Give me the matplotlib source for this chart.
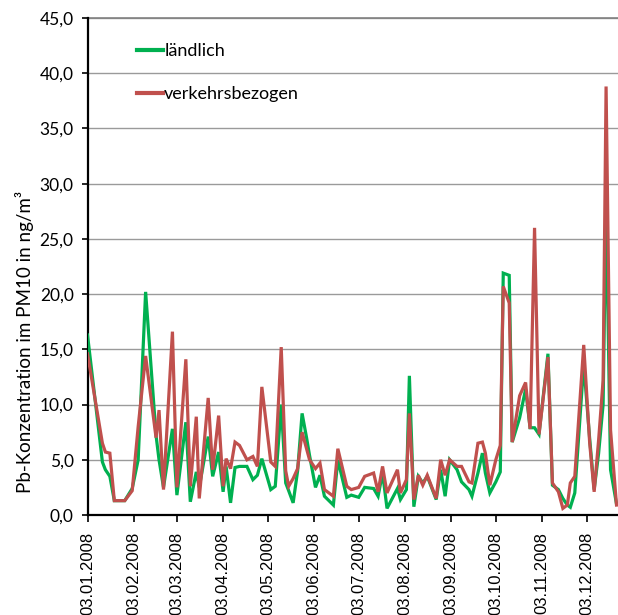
import matplotlib
matplotlib.use("Agg")
import matplotlib.pyplot as plt
import matplotlib.dates as mdates
from matplotlib.ticker import FuncFormatter, MultipleLocator
import pandas as pd

# Sampling dates 2008 and Pb concentrations (ng/m³) in PM10
dates = [
    "2008-01-03", "2008-01-13", "2008-01-15", "2008-01-18", "2008-01-21", "2008-01-24",
    "2008-01-28", "2008-02-02", "2008-02-06", "2008-02-11", "2008-02-18", "2008-02-20",
    "2008-02-23", "2008-02-29", "2008-03-03", "2008-03-09", "2008-03-12", "2008-03-16",
    "2008-03-18", "2008-03-24", "2008-03-27", "2008-03-31", "2008-04-03", "2008-04-05",
    "2008-04-08", "2008-04-11", "2008-04-14", "2008-04-19", "2008-04-23", "2008-04-26",
    "2008-04-29", "2008-05-05", "2008-05-08", "2008-05-12", "2008-05-15", "2008-05-17",
    "2008-05-20", "2008-05-23", "2008-05-26", "2008-05-29", "2008-05-31", "2008-06-04",
    "2008-06-07", "2008-06-10", "2008-06-16", "2008-06-19", "2008-06-25", "2008-06-28",
    "2008-07-03", "2008-07-07", "2008-07-13", "2008-07-16", "2008-07-19", "2008-07-22",
    "2008-07-29", "2008-07-31", "2008-08-04", "2008-08-06", "2008-08-09", "2008-08-12",
    "2008-08-15", "2008-08-18", "2008-08-24", "2008-08-27", "2008-08-30", "2008-09-02",
    "2008-09-07", "2008-09-10", "2008-09-15", "2008-09-17", "2008-09-21", "2008-09-24",
    "2008-09-26", "2008-09-29", "2008-10-03", "2008-10-06", "2008-10-08", "2008-10-12",
    "2008-10-14", "2008-10-19", "2008-10-23", "2008-10-26", "2008-10-29", "2008-11-01",
    "2008-11-07", "2008-11-10", "2008-11-14", "2008-11-17", "2008-11-20", "2008-11-22",
    "2008-11-25", "2008-12-01", "2008-12-05", "2008-12-08", "2008-12-11", "2008-12-14",
    "2008-12-16", "2008-12-19", "2008-12-23",
]

laendlich = [
    16.3, 4.8, 4.1, 3.5, 1.3, 1.3,
    1.3, 2.4, 5.0, 20.2, 7.2, 5.0,
    2.5, 7.8, 1.8, 8.4, 1.2, 3.9,
    2.5, 7.1, 3.5, 5.7, 2.1, 4.4,
    1.1, 4.3, 4.4, 4.4, 3.2, 3.6,
    5.1, 2.3, 2.6, 10.0, 2.9, 2.2,
    1.1, 4.0, 9.2, 7.0, 5.4, 2.5,
    3.6, 1.7, 0.9, 5.0, 1.6, 1.8,
    1.6, 2.5, 2.4, 1.7, 3.8, 0.6,
    2.4, 1.4, 2.3, 12.6, 0.75, 3.5,
    2.9, 3.5, 1.4, 4.1, 1.7, 5.0,
    4.1, 3.0, 2.3, 1.7, 3.8, 5.6,
    3.8, 2.0, 3.0, 3.9, 21.9, 21.7,
    6.6, 8.8, 11.4, 7.9, 7.9, 7.3,
    14.6, 2.7, 2.3, 1.5, 0.9, 0.7,
    2.0, 13.7, 6.9, 2.3, 5.6, 10.0,
    28.5, 4.1, 1.0,
]

verkehrsbezogen = [
    14.6, 6.5, 5.7, 5.6, 1.3, 1.3,
    1.3, 2.2, 8.0, 14.4, 7.0, 9.5,
    2.3, 16.6, 2.5, 14.1, 2.6, 8.9,
    1.5, 10.6, 4.1, 9.0, 2.6, 5.1,
    4.2, 6.6, 6.3, 5.0, 5.3, 4.4,
    11.6, 4.8, 4.4, 15.2, 4.0, 2.6,
    3.3, 4.2, 7.5, 6.0, 5.0, 4.2,
    4.7, 2.3, 1.7, 6.0, 2.6, 2.3,
    2.5, 3.5, 3.8, 2.1, 4.4, 2.0,
    4.1, 2.0, 3.2, 9.2, 1.4, 3.6,
    2.7, 3.6, 1.5, 5.0, 3.6, 5.0,
    4.4, 4.4, 3.0, 2.9, 6.5, 6.6,
    5.6, 2.7, 5.0, 6.3, 20.7, 19.2,
    6.6, 10.8, 12.0, 7.8, 26.0, 7.3,
    14.3, 2.9, 2.1, 0.6, 0.9, 2.9,
    3.5, 15.4, 6.5, 2.1, 6.8, 12.2,
    38.8, 7.7, 0.9,
]

series_names = ["ländlich", "verkehrsbezogen"]
series_colors = ["#00B050", "#C0504D"]
tick_dates = pd.date_range("2008-01-01", periods=12, freq="MS") + pd.Timedelta(days=2)

x = pd.to_datetime(dates)

fig = plt.figure(figsize=(6.18, 6.15), dpi=100)
ax = fig.add_axes([87.5 / 618, 100 / 615, (618 - 87.5) / 618, 497 / 615])

for vals, name, col in zip([laendlich, verkehrsbezogen], series_names, series_colors):
    ax.plot(x, vals, color=col, lw=2.3, label=name, solid_joinstyle="miter",
            zorder=3)

ax.set_ylim(0, 45)
ax.yaxis.set_major_locator(MultipleLocator(5))
ax.yaxis.set_major_formatter(FuncFormatter(lambda v, p: f"{v:.1f}".replace(".", ",")))

start = pd.Timestamp("2008-01-03")
ax.set_xlim(start, start + pd.Timedelta(days=356))
ax.set_xticks(tick_dates)
ax.xaxis.set_major_formatter(mdates.DateFormatter("%d.%m.%Y"))

ax.grid(axis="y", color="#9a9a9a", lw=1.0, zorder=0)
ax.set_axisbelow(True)
for s in ("top", "right"):
    ax.spines[s].set_visible(False)
for s in ("left", "bottom"):
    ax.spines[s].set_linewidth(1.6)
    ax.spines[s].set_color("black")
ax.axhline(45, color="#808080", lw=1.2, zorder=1, clip_on=False)

ax.tick_params(axis="y", direction="out", length=4, width=1.2, pad=6,
               labelsize=12.5)
ax.tick_params(axis="x", direction="out", length=5, width=1.2, pad=7,
               labelsize=12, labelrotation=90)
for lab in ax.get_yticklabels():
    lab.set_fontfamily(["Lato", "DejaVu Sans"])
for lab in ax.get_xticklabels():
    lab.set_fontfamily(["Liberation Sans", "DejaVu Sans"])
    lab.set_verticalalignment("top")

leg = ax.legend(loc="upper left", bbox_to_anchor=(0.062, 0.982), frameon=False,
                handlelength=1.45, handletextpad=0.08, labelspacing=1.5,
                prop={"family": ["Lato", "DejaVu Sans"], "size": 13})
for h in leg.get_lines():
    h.set_linewidth(3)

fig.text(25 / 618, 1 - 342 / 615, "Pb-Konzentration im PM10 in ng/m³",
         rotation=90, ha="center", va="center", fontsize=13.5,
         family=["Lato", "DejaVu Sans"])

fig.savefig("out.png", dpi=100)
